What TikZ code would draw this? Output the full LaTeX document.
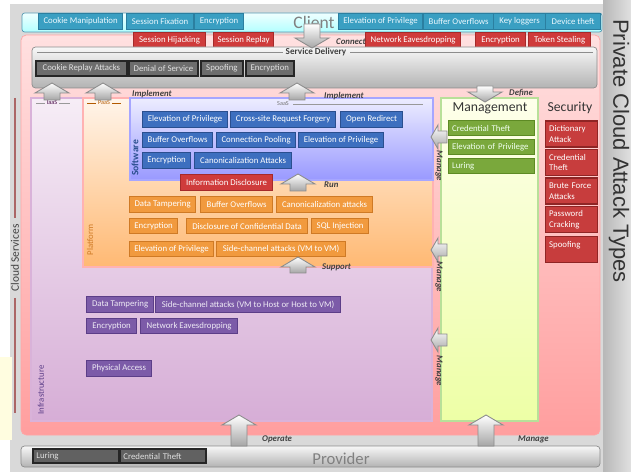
\documentclass[tikz,border=0pt]{standalone}
\usepackage{fontspec}
\setmainfont{Carlito}
\newfontfamily\sidefont{Liberation Sans}
\usetikzlibrary{positioning}

\definecolor{cyanbox}{HTML}{3A9FC2}
\definecolor{cyanedge}{HTML}{2B7FA0}
\definecolor{redbox}{HTML}{CF3B3B}
\definecolor{rededge}{HTML}{A52A2A}
\definecolor{darkbox}{HTML}{6D6D6D}
\definecolor{bluebox}{HTML}{3D6FBF}
\definecolor{blueedge}{HTML}{2A4F8F}
\definecolor{orangebox}{HTML}{F19A3E}
\definecolor{orangeedge}{HTML}{CF7A25}
\definecolor{purplebox}{HTML}{7C5BA8}
\definecolor{purpleedge}{HTML}{5C3E88}
\definecolor{greenbox}{HTML}{7AA83C}
\definecolor{greenedge}{HTML}{5D8A24}
\definecolor{secbox}{HTML}{C73D3D}
\definecolor{secedge}{HTML}{8F2525}

% block arrows: centre, tip, base
\newcommand{\arrup}[3]{\draw[blockarr] (#1-8,#3) -- (#1-8,#2+10) -- (#1-17,#2+10) -- (#1,#2) -- (#1+17,#2+10) -- (#1+8,#2+10) -- (#1+8,#3) -- cycle;}
\newcommand{\arrdown}[3]{\draw[blockarr] (#1-8,#3) -- (#1-8,#2-10) -- (#1-17,#2-10) -- (#1,#2) -- (#1+17,#2-10) -- (#1+8,#2-10) -- (#1+8,#3) -- cycle;}
\newcommand{\arrleft}[3]{\draw[blockarr] (#3,#1-6) -- (#2+7,#1-6) -- (#2+7,#1-12) -- (#2,#1) -- (#2+7,#1+12) -- (#2+7,#1+6) -- (#3,#1+6) -- cycle;}

\begin{document}
\begin{tikzpicture}[x=0.02cm, y=-0.02cm,
    box/.style={anchor=west, minimum height=0.31cm, inner sep=1pt, line width=0.7pt,
      font=\fontsize{5}{6}\selectfont, text=white},
    cbox/.style={box, fill=cyanbox, draw=cyanedge, text=cyan!8},
    rbox/.style={box, fill=redbox, draw=rededge},
    dbox/.style={box, fill=darkbox, draw=black!85, line width=1pt, text=black!12},
    bbox/.style={box, fill=bluebox, draw=blueedge},
    obox/.style={box, fill=orangebox, draw=orangeedge},
    pbox/.style={box, fill=purplebox, draw=purpleedge, text=purplebox!12},
    gbox/.style={box, fill=greenbox, draw=greenedge, text width=1.58cm, inner xsep=2pt, align=left, text=green!6},
    sbox/.style={box, fill=secbox, draw=secedge, text width=0.9cm, inner xsep=2pt, align=left,
      minimum height=0.52cm, font=\fontsize{5}{6}\selectfont},
    blockarr/.style={draw=black!45, line width=0.5pt, top color=white, bottom color=black!35},
    lbl/.style={font=\fontsize{5}{6}\selectfont\bfseries\itshape, text=black!75},
    layer/.style={line width=0.8pt}]

\useasboundingbox (0,0) rectangle (631,472);

% background
\fill[black!15] (10,4) rectangle (631,472);
\fill[yellow!12] (0,357) rectangle (12,440);
\shade[left color=black!28, right color=black!12] (603,0) rectangle (631,472);
\node[font=\sidefont\fontsize{12.5}{14}\selectfont, text=black!80, rotate=-90] (title) at (619,151) {Private Cloud Attack Types};
\draw[red!45!black!60, line width=1pt] (15,98) -- (15,218);
\draw[red!45!black!60, line width=1pt] (15,298) -- (15,413);
\node[font=\fontsize{6.5}{8}\selectfont, text=black!75, rotate=90] (cloudsrv) at (15,258) {Cloud Services};

% client
\draw[draw=cyanedge!80, top color=cyan!6, bottom color=cyan!30!white, rounded corners=1.5pt] (22,13) rectangle (602,32);
\node[font=\fontsize{10}{12}\selectfont, text=black!50] (client) at (314,22) {Client};
\node[cbox, minimum width=1.68cm] (cl1) at (38,21.5) {Cookie Manipulation};
\node[cbox, minimum width=1.34cm] (cl2) at (126,21.5) {Session Fixation};
\node[cbox, minimum width=0.98cm] (cl3) at (194,21.5) {Encryption};
\node[cbox, minimum width=1.68cm] (cl4) at (338,21.5) {Elevation of Privilege};
\node[cbox, minimum width=1.40cm] (cl5) at (423,21.5) {Buffer Overflows};
\node[cbox, minimum width=1.04cm] (cl6) at (493,21.5) {Key loggers};
\node[cbox, minimum width=1.10cm] (cl7) at (545,21.5) {Device theft};

% private cloud area
\draw[draw=red!35, top color=red!12, bottom color=red!38!white, rounded corners=3pt] (21,35) rectangle (600,435);
\node[rbox, minimum width=1.44cm] (rt1) at (133,40) {Session Hijacking};
\node[rbox, minimum width=1.20cm] (rt2) at (213,40) {Session Replay};
\node[rbox, minimum width=1.90cm] (rt3) at (365,40) {Network Eavesdropping};
\node[rbox, minimum width=1.00cm] (rt4) at (475,40) {Encryption};
\node[rbox, minimum width=1.24cm] (rt5) at (528,40) {Token Stealing};

% service delivery
\draw[draw=black!45, top color=black!3, bottom color=black!30, rounded corners=2pt] (32,47) rectangle (597,88);
\draw[black!45] (37,52) -- (283,52);
\draw[black!45] (350,52) -- (593,52);
\node[font=\fontsize{5.2}{6}\selectfont\bfseries, text=black!75] (srvdel) at (316,52) {Service Delivery};
\node[dbox, minimum width=1.82cm] (sd1) at (35,68.5) {Cookie Replay Attacks};
\node[dbox, minimum width=1.38cm] (sd2) at (128,68.5) {Denial of Service};
\node[dbox, minimum width=0.84cm] (sd3) at (200,68.5) {Spoofing};
\node[dbox, minimum width=0.96cm] (sd4) at (245,68.5) {Encryption};

% layers
\draw[layer, draw=violet!30, top color=violet!7, bottom color=violet!32!white] (31,98) rectangle (432,421);
\draw[layer, draw=red!30, line width=1.5pt, top color=orange!8, bottom color=orange!55!white] (83,98) rectangle (433,267);
\draw[layer, draw=blue!35, top color=blue!7, bottom color=blue!40!white] (130,98) rectangle (433,180);
\draw[layer, draw=green!40!olive!40, top color=green!5!yellow!8, bottom color=green!20!yellow!35] (441,98) rectangle (538,421);

\draw[black!40, line width=0.3pt] (36,103) -- (45,103) (59,103) -- (70,103);
\node[font=\fontsize{3.5}{4}\selectfont, text=violet!50!black] (iaas) at (52,103) {IaaS};
\draw[orange!70!black, line width=0.3pt] (87,103) -- (96,103) (112,103) -- (121,103);
\node[font=\fontsize{3.5}{4}\selectfont, text=orange!70!black] (paas) at (104,103) {PaaS};
\draw[black!40, line width=0.3pt] (293,104) -- (423,104);
\node[font=\fontsize{3.5}{4}\selectfont, text=black!55] (saas) at (283,104) {SaaS};

\node[font=\fontsize{5}{6}\selectfont, text=purpleedge, rotate=90] (infra) at (41,390) {Infrastructure};
\node[font=\fontsize{5}{6}\selectfont, text=orangeedge, rotate=90] (platf) at (90,240) {Platform};
\node[font=\fontsize{5.5}{6}\selectfont\bfseries, text=blueedge, rotate=90] (softw) at (135,158) {Software};

% software
\node[bbox, minimum width=1.70cm] (sw1) at (142,119.5) {Elevation of Privilege};
\node[bbox, minimum width=2.10cm] (sw2) at (230,119.5) {Cross-site Request Forgery};
\node[bbox, minimum width=1.24cm] (sw3) at (340,119.5) {Open Redirect};
\node[bbox, minimum width=1.40cm] (sw4) at (142,140) {Buffer Overflows};
\node[bbox, minimum width=1.58cm] (sw5) at (216,140) {Connection Pooling};
\node[bbox, minimum width=1.70cm] (sw6) at (298,140) {Elevation of Privilege};
\node[bbox, minimum width=0.96cm] (sw7) at (142,160.5) {Encryption};
\node[bbox, minimum width=1.94cm] (sw8) at (194,160.5) {Canonicalization Attacks};
\node[rbox, minimum width=1.84cm] (infodis) at (180,182.5) {Information Disclosure};

% platform
\node[obox, minimum width=1.32cm] (pf1) at (129,204.5) {Data Tampering};
\node[obox, minimum width=1.44cm] (pf2) at (200,204.5) {Buffer Overflows};
\node[obox, minimum width=1.92cm] (pf3) at (276,204.5) {Canonicalization attacks};
\node[obox, minimum width=0.96cm] (pf4) at (129,226) {Encryption};
\node[obox, minimum width=2.42cm] (pf5) at (186,226) {Disclosure of Confidential Data};
\node[obox, minimum width=1.14cm] (pf6) at (311,226) {SQL Injection};
\node[obox, minimum width=1.68cm] (pf7) at (129,249) {Elevation of Privilege};
\node[obox, minimum width=2.58cm] (pf8) at (216,249) {Side-channel attacks (VM to VM)};

% infrastructure
\node[pbox, minimum width=1.34cm] (in1) at (86,304.5) {Data Tampering};
\node[pbox, minimum width=3.70cm] (in2) at (155,304.5) {Side-channel attacks (VM to Host or Host to VM)};
\node[pbox, minimum width=1.00cm] (in3) at (86,326) {Encryption};
\node[pbox, minimum width=1.94cm] (in4) at (140,326) {Network Eavesdropping};
\node[pbox, minimum width=1.30cm] (in5) at (86,368.5) {Physical Access};

% management and security
\node[font=\fontsize{7.8}{9}\selectfont, text=black!80] (mgmt) at (490,108) {Management};
\node[gbox] (mg1) at (448,128) {Credential Theft};
\node[gbox] (mg2) at (448,147) {Elevation of Privilege};
\node[gbox] (mg3) at (448,166) {Luring};
\node[font=\fontsize{7.8}{9}\selectfont, text=black!80] (secur) at (570,108) {Security};
\node[sbox] (sc1) at (545,134) {Dictionary\\Attack};
\node[sbox] (sc2) at (545,162.5) {Credential\\Theft};
\node[sbox] (sc3) at (545,191) {Brute Force\\Attacks};
\node[sbox] (sc4) at (545,219.5) {Password\\Cracking};
\node[sbox] (sc5) at (545,249.5) {Spoofing\\\mbox{}};

% provider
\draw[draw=black!45, top color=black!3, bottom color=black!30, rounded corners=2pt] (21,446) rectangle (600,467);
\node[font=\fontsize{9.5}{11}\selectfont, text=black!50] (prov) at (341,459) {Provider};
\node[dbox, fill=black!62, minimum height=0.27cm, text width=1.58cm, inner xsep=2pt, align=left] (pv1) at (32,456) {Luring};
\node[dbox, fill=black!62, minimum height=0.27cm, text width=1.58cm, inner xsep=2pt, align=left] (pv2) at (119,456) {Credential Theft};

% block arrows
\arrdown{312}{48}{24}
\node[lbl, anchor=west] (connect) at (330,42) {Connect};
\arrup{52}{83}{100}
\arrup{103}{83}{100}
\node[lbl, anchor=west] (impl1) at (126,94) {Implement};
\arrup{297}{83}{100}
\node[lbl, anchor=west] (impl2) at (318,96) {Implement};
\arrdown{485}{102}{86}
\node[lbl, anchor=west] (define) at (503,93) {Define};
\arrup{298}{174}{191}
\node[lbl, anchor=west] (run) at (318,185) {Run};
\arrup{298}{257}{273}
\node[lbl, anchor=west] (support) at (316,267) {Support};
\arrleft{137}{431}{447}
\node[lbl, rotate=-90] (mng1) at (439,166) {Manage};
\arrleft{250}{431}{447}
\node[lbl, rotate=-90] (mng2) at (439,277) {Manage};
\arrleft{340}{431}{447}
\node[lbl, rotate=-90] (mng3) at (439,371) {Manage};
\arrup{239}{415}{446}
\node[lbl, anchor=west] (operate) at (256,439) {Operate};
\arrup{486}{415}{446}
\node[lbl, anchor=west] (manage) at (512,439) {Manage};
\end{tikzpicture}
\end{document}
